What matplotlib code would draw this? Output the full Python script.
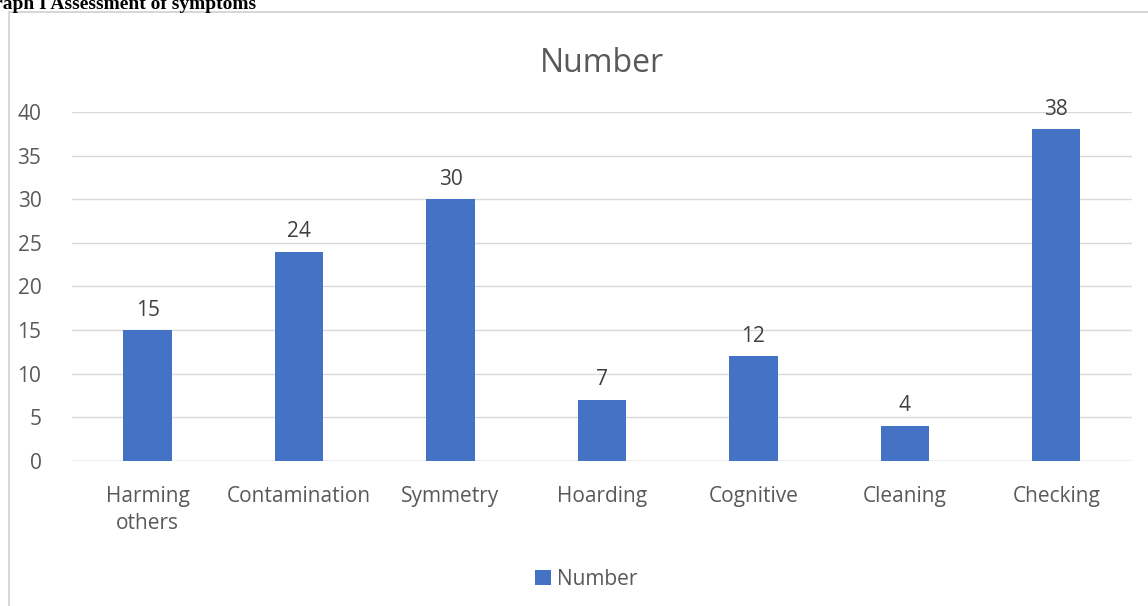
import matplotlib.pyplot as plt
from matplotlib.patches import Rectangle

categories = ['Harming\nothers', 'Contamination', 'Symmetry', 'Hoarding',
              'Cognitive', 'Cleaning', 'Checking']
values = [15, 24, 30, 7, 12, 4, 38]
y_ticks = [0, 5, 10, 15, 20, 25, 30, 35, 40]

text_col = '#595959'
bar_col = '#4472c4'
grid_col = '#d9d9d9'

plt.rcParams['font.family'] = ['Open Sans', 'DejaVu Sans']

fig = plt.figure(figsize=(11.48, 6.06), dpi=100)
ax = fig.add_axes([0.0627, 0.2393, 0.9233, 0.5759])

# chart frame border (runs off the right/bottom edges)
fig.patches.append(Rectangle((9 / 1148, -0.05), 1.2, 1 - 12 / 606 + 0.05,
                             transform=fig.transFigure, fill=False,
                             edgecolor='#d0d0d0', linewidth=1.2))

# document caption above the chart, clipped at the left edge as in the source
fig.text(-21 / 1148, 1 - 9 / 606, 'Graph I Assessment of symptoms',
         family='Liberation Serif', weight='bold', fontsize=14,
         ha='left', va='baseline', color='black')

x = list(range(len(categories)))
ax.bar(x, values, width=0.32, color=bar_col, label='Number', zorder=3)

for xi, v in zip(x, values):
    ax.text(xi, v + 1.1, str(v), ha='center', va='bottom',
            fontsize=15, color='#404040')

ax.set_xlim(-0.5, len(categories) - 0.5)
ax.set_ylim(0, 40)
ax.set_yticks(y_ticks)
ax.set_xticks(x)
ax.set_xticklabels(categories, fontsize=15, color=text_col, linespacing=1.4)
ax.tick_params(axis='y', labelsize=15, labelcolor=text_col, length=0, pad=22)
ax.tick_params(axis='x', length=0, pad=18)
ax.grid(axis='y', color=grid_col, linewidth=1, zorder=0)
for s in ax.spines.values():
    s.set_visible(False)
ax.axhline(0, color=grid_col, linewidth=1, zorder=1)

ax.set_title('Number', fontsize=23, color=text_col, pad=29)

ax.legend(loc='upper center', bbox_to_anchor=(0.485, -0.255), frameon=False,
          fontsize=15, handlelength=0.75, handleheight=0.75, handletextpad=0.3,
          labelcolor=text_col)

fig.savefig('out.png', dpi=100)
